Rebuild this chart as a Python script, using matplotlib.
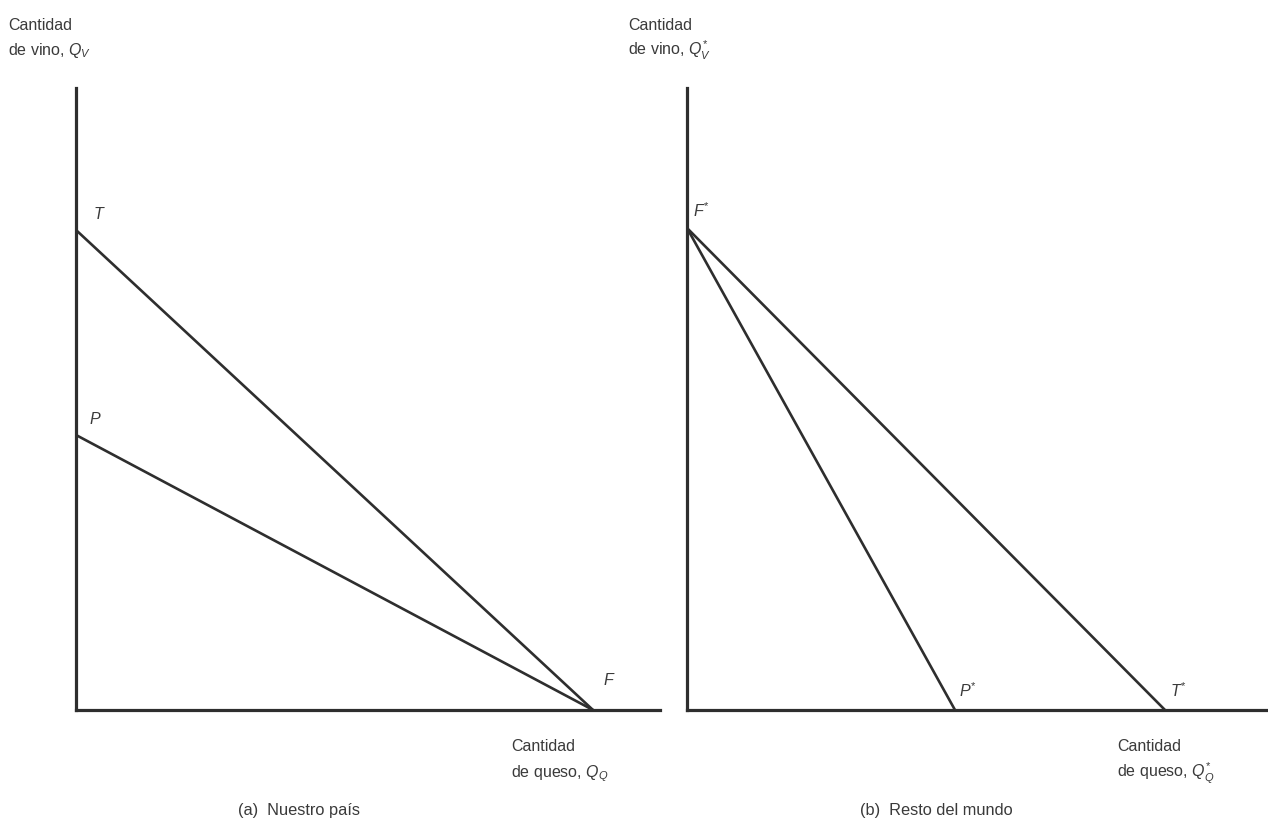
import matplotlib
matplotlib.use("Agg")
import matplotlib.pyplot as plt

plt.rcParams["font.family"] = ["Liberation Sans", "DejaVu Sans"]
plt.rcParams["mathtext.fontset"] = "custom"
plt.rcParams["mathtext.rm"] = "Liberation Sans"
plt.rcParams["mathtext.it"] = "Liberation Sans:italic"

# Production possibility frontiers (P) and trade lines (T), in arbitrary units
home_wine_T = 480      # vertical intercept of the trade line, home
home_wine_P = 275      # vertical intercept of the frontier, home
home_cheese_F = 517    # common horizontal intercept F, home

foreign_wine_F = 482   # common vertical intercept F*, foreign
foreign_cheese_P = 268 # horizontal intercept of the frontier, foreign
foreign_cheese_T = 478 # horizontal intercept of the trade line, foreign

W, H = 1268, 831
fig = plt.figure(figsize=(W / 100, H / 100), dpi=100)
fig.patch.set_facecolor("white")

ink = "#2e2e2e"
txt = "#3a3a3a"


def make_axes(x0, x1, y_top, y_bot):
    ax = fig.add_axes([x0 / W, (H - y_bot) / H, (x1 - x0) / W, (y_bot - y_top) / H])
    ax.set_xlim(0, x1 - x0)
    ax.set_ylim(0, y_bot - y_top)
    for s in ("top", "right"):
        ax.spines[s].set_visible(False)
    for s in ("left", "bottom"):
        ax.spines[s].set_linewidth(2.3)
        ax.spines[s].set_color(ink)
    ax.set_xticks([])
    ax.set_yticks([])
    ax.patch.set_alpha(0)
    return ax


# (a) Home country
axa = make_axes(76, 660, 88, 710)
axa.plot([0, home_cheese_F], [home_wine_T, 0], color=ink, lw=1.9, solid_capstyle="butt")
axa.plot([0, home_cheese_F], [home_wine_P, 0], color=ink, lw=1.9, solid_capstyle="butt")
axa.text(22, home_wine_T + 8, "T", style="italic", fontsize=11.5, color=txt, ha="center", va="bottom")
axa.text(19, home_wine_P + 8, "P", style="italic", fontsize=11.5, color=txt, ha="center", va="bottom")
axa.text(home_cheese_F + 15, 22, "F", style="italic", fontsize=11.5, color=txt, ha="center", va="bottom")

# (b) Rest of the world
axb = make_axes(687, 1268, 88, 710)
axb.plot([0, foreign_cheese_T], [foreign_wine_F, 0], color=ink, lw=1.9, solid_capstyle="butt")
axb.plot([0, foreign_cheese_P], [foreign_wine_F, 0], color=ink, lw=1.9, solid_capstyle="butt")
axb.text(6, foreign_wine_F + 8, r"$F^{*}$", fontsize=11.5, color=txt, ha="left", va="bottom")
axb.text(foreign_cheese_P + 13, 10, r"$P^{*}$", fontsize=11.5, color=txt, ha="center", va="bottom")
axb.text(foreign_cheese_T + 14, 10, r"$T^{*}$", fontsize=11.5, color=txt, ha="center", va="bottom")


def ftext(x, y, s, size=11.5, **kw):
    fig.text(x / W, 1 - y / H, s, fontsize=size, color=txt, **kw)


# Axis titles
ftext(8, 30, "Cantidad", va="baseline")
ftext(8, 55, r"de vino, $Q_V$", va="baseline")
ftext(628, 30, "Cantidad", va="baseline")
ftext(628, 55, r"de vino, $Q^{*}_{V}$", va="baseline")
ftext(511, 751, "Cantidad", va="baseline")
ftext(511, 777, r"de queso, $Q_Q$", va="baseline")
ftext(1117, 751, "Cantidad", va="baseline")
ftext(1117, 777, r"de queso, $Q^{*}_{Q}$", va="baseline")

# Panel captions
ftext(238, 815, "(a)  Nuestro país", size=11.8, va="baseline")
ftext(860, 815, "(b)  Resto del mundo", size=11.8, va="baseline")

fig.savefig("out.png", dpi=100)
